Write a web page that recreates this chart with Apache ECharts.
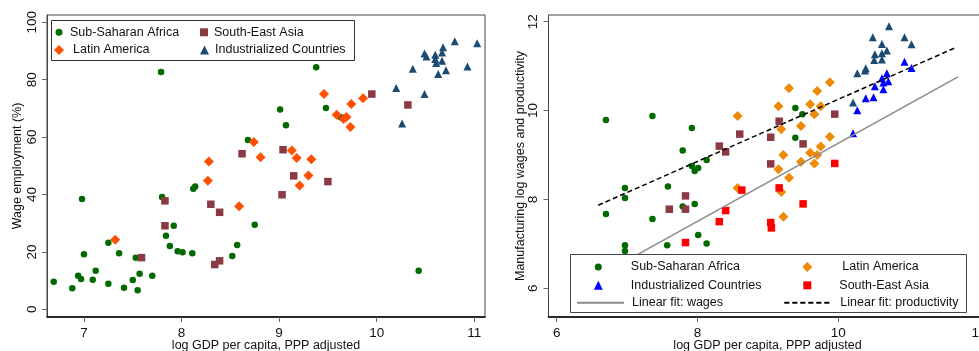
<!DOCTYPE html>
<html>
<head>
<meta charset="utf-8">
<script src="https://cdn.jsdelivr.net/npm/echarts@6/dist/echarts.min.js"></script>
<style>
  html, body { margin: 0; padding: 0; background: #fff; }
  #chart { width: 979px; height: 351px; }
</style>
</head>
<body>
<div id="chart"></div>
<script>
// left panel: wage employment (%) vs log GDP per capita
const ssaEmp = [[7.79,82.7],[8.68,59.0],[9.38,84.3],[9.01,69.6],[9.48,70.1],[9.07,64.1],[9.63,66.9],[8.75,29.5],[10.43,13.4],
  [6.69,9.6],[6.88,7.3],[6.94,11.7],[6.97,10.6],[6.98,38.4],[7.00,19.2],[7.09,10.3],[7.12,13.4],[7.25,23.2],[7.25,8.9],
  [7.36,19.5],[7.41,7.5],[7.50,10.2],[7.53,18.0],[7.57,12.4],[7.55,6.6],[7.70,11.7],[7.80,39.1],[7.92,29.1],[7.84,25.6],
  [7.88,22.1],[7.96,20.2],[8.01,19.9],[8.11,19.5],[8.12,42.0],[8.14,42.8],[8.52,18.6],[8.57,22.4]]
const laEmp = [[8.28,51.5],[8.27,44.8],[9.46,75.0],[9.86,73.5],[9.74,71.5],[9.59,67.8],[9.66,66.3],[9.69,67.0],[9.73,63.5],
  [8.74,58.3],[8.81,53.0],[9.13,55.3],[9.18,52.7],[9.33,52.3],[9.30,46.6],[9.21,43.1],[8.59,35.9],[7.32,24.2]]
const seaEmp = [[8.62,54.2],[9.95,75.0],[10.32,71.2],[9.04,55.6],[9.15,46.5],[9.50,44.5],[9.03,39.9],[7.59,18.0],[7.83,37.8],
  [7.83,29.1],[8.30,36.6],[8.39,33.8],[8.34,15.6],[8.39,16.9]]
const icEmp = [[10.80,93.4],[11.03,92.7],[10.49,89.1],[10.68,91.3],[10.51,88.1],[10.60,88.7],[10.60,87.2],[10.67,89.5],
  [10.67,86.6],[10.61,85.8],[10.37,83.8],[10.71,83.3],[10.63,82.0],[10.93,84.6],[10.20,77.1],[10.49,75.0],[10.26,64.7]]

// right panel: manufacturing log wages / log productivity
const ssaProd = [[6.70,9.79],[7.36,9.88],[7.92,9.61],[7.79,9.10],[8.13,8.89],[7.92,8.75],[7.96,8.64],[8.01,8.71],
  [9.39,10.06],[9.49,9.92],[6.97,8.26],[7.58,8.29]]
const ssaWage = [[6.70,7.67],[6.97,8.03],[7.36,7.56],[7.79,7.84],[7.96,7.90],[8.01,7.20],[8.13,7.01],[6.97,6.97],
  [6.97,6.84],[7.57,6.97],[9.39,9.39]]
const laProd = [[8.57,9.88],[9.30,10.50],[9.70,10.44],[9.88,10.64],[9.15,10.10],[9.60,10.14],[9.75,10.10],[9.66,9.92],
  [9.47,9.65],[9.19,9.58],[9.88,9.41]]
const laWage = [[9.75,9.19],[9.60,9.05],[9.70,9.00],[9.22,9.00],[9.47,8.85],[9.66,8.81],[9.15,8.68],[9.30,8.49],
  [8.57,8.26],[9.19,8.17],[9.22,7.61]]
const seaProd = [[7.60,7.78],[7.83,8.08],[7.83,7.78],[8.31,9.20],[8.40,9.07],[8.60,9.47],[9.16,9.76],[9.95,9.92],
  [9.04,9.40],[9.50,9.25],[9.04,8.80]]
const seaWage = [[7.83,7.03],[8.31,7.50],[8.40,7.75],[8.63,8.21],[9.16,8.26],[9.50,7.90],[9.04,7.48],[9.05,7.36],[9.95,8.81]]
const icProd = [[10.72,11.90],[10.49,11.65],[10.94,11.65],[11.04,11.49],[10.62,11.50],[10.69,11.35],[10.52,11.27],
  [10.62,11.29],[10.51,11.14],[10.62,11.15],[10.39,10.95],[10.38,10.90],[10.27,10.84],[10.21,10.18]]
const icWage = [[10.94,11.10],[11.04,10.96],[10.69,10.84],[10.62,10.73],[10.71,10.66],[10.64,10.63],[10.52,10.55],
  [10.64,10.48],[10.50,10.30],[10.39,10.28],[10.27,10.01],[10.21,9.49]]
const fitWages = [[6.59,6.27],[11.70,10.76]]
const fitProd = [[6.59,7.87],[11.67,11.42]]

const xTicksLeft = [7, 8, 9, 10, 11]
const yTicksLeft = [0, 20, 40, 60, 80, 100]
const xTicksRight = [6, 8, 10, 12]
const yTicksRight = [6, 8, 10, 12]

const FONT = 'Liberation Sans, Arial, sans-serif'
const C = {
  green: '#006a00', orangered: '#ff4f00', maroon: '#8b3a44', navy: '#1b4a72',
  orange: '#ef8a07', red: '#ff0000', blue: '#0000ff'
}

function xAxisOf(grid, min, max, ticks) {
  return {
    gridIndex: grid, type: 'value', min: min, max: max,
    name: 'log GDP per capita, PPP adjusted',
    nameLocation: 'middle', nameGap: 22, nameMoveOverlap: false,
    nameTextStyle: { fontFamily: FONT, fontSize: 12.5, color: '#111' },
    axisLine: { onZero: false, lineStyle: { color: '#000', width: 1.5 } },
    axisTick: { customValues: ticks, length: 5, lineStyle: { color: '#666' } },
    axisLabel: { customValues: ticks, margin: 9, fontFamily: FONT, fontSize: 13.5, color: '#111' },
    splitLine: { show: false }
  }
}
function yAxisOf(grid, min, max, ticks, name, gap) {
  return {
    gridIndex: grid, type: 'value', min: min, max: max,
    name: name, nameLocation: 'middle', nameGap: gap, nameRotate: 90, nameMoveOverlap: false,
    nameTextStyle: { fontFamily: FONT, fontSize: 12.5, color: '#111' },
    axisLine: { onZero: false, lineStyle: { color: '#444', width: 1 } },
    axisTick: { customValues: ticks, length: 5, lineStyle: { color: '#666' } },
    axisLabel: { customValues: ticks, rotate: 90, margin: 8, fontFamily: FONT, fontSize: 13.5, color: '#111' },
    splitLine: { show: false }
  }
}
function scatter(name, data, symbol, size, color, x) {
  return {
    name: name, type: 'scatter', xAxisIndex: x, yAxisIndex: x,
    data: data, symbol: symbol, symbolSize: size,
    itemStyle: { color: color, opacity: 1 }, z: 2
  }
}
// one legend block per entry, placed like the stata key
function legendOf(name, icon, color, left, cy, w, h, pad) {
  const lh = Math.max(h, 15)
  // line entries: hide the marker ECharts puts in the middle of the line
  const item = icon ? { name: name, icon: icon, itemStyle: { color: color } }
                    : { name: name, itemStyle: { opacity: 0 } }
  return {
    left: left, top: cy - lh / 2 + 2, padding: 0, itemWidth: w, itemHeight: h,
    selectedMode: false, z: 6,
    data: [item],
    textStyle: { fontFamily: FONT, fontSize: 12.5, color: '#111', padding: [0, 0, 0, pad || 0] }
  }
}

const chart = echarts.init(document.getElementById('chart'))
chart.setOption({
  animation: false,
  grid: [
    { left: 47, top: 15, width: 438, height: 302, show: true, borderColor: '#444', borderWidth: 1, outerBoundsMode: 'none' },
    { left: 548.5, top: 15, width: 438, height: 302, show: true, borderColor: '#444', borderWidth: 1, outerBoundsMode: 'none' }
  ],
  xAxis: [
    xAxisOf(0, 6.621, 11.11, xTicksLeft),
    xAxisOf(1, 5.884, 12.105, xTicksRight)
  ],
  yAxis: [
    yAxisOf(0, -2.68, 102.54, yTicksLeft, 'Wage employment (%)', 23),
    yAxisOf(1, 5.354, 12.151, yTicksRight, 'Manufacturing log wages and productivity', 21.5)
  ],
  graphic: [
    { type: 'rect', z: 5, shape: { x: 51.5, y: 20.5, width: 303, height: 40 },
      style: { fill: '#fff', stroke: '#333', lineWidth: 1 } },
    { type: 'rect', z: 5, shape: { x: 570.5, y: 254.5, width: 396, height: 58 },
      style: { fill: '#fff', stroke: '#444', lineWidth: 1 } }
  ],
  legend: [
    legendOf('Sub-Saharan Africa', 'circle', C.green, 55.5, 31.3, 7, 7, 2.5),
    legendOf('Latin America', 'diamond', C.orangered, 54, 49, 10, 10, 4),
    legendOf('South-East Asia', 'rect', C.maroon, 200, 31.3, 8, 8, 1),
    legendOf('Industrialized Countries', 'triangle', C.navy, 200, 49, 9, 9, 1),

    legendOf('Sub-Saharan Africa ', 'circle', C.green, 594.8, 266, 7, 7, 24),
    legendOf('Industrialized Countries ', 'triangle', C.blue, 593.8, 284.3, 9, 9, 23),
    legendOf('Linear fit: wages', null, null, 576, 301.7, 47, 14, 3),
    legendOf('Latin America ', 'diamond', C.orange, 802.3, 266, 10, 10, 25),
    legendOf('South-East Asia ', 'rect', C.red, 803.3, 284.3, 8, 8, 23),
    legendOf('Linear fit: productivity', null, null, 783.3, 301.7, 47, 14, 4)
  ],
  series: [
    scatter('Sub-Saharan Africa', ssaEmp, 'circle', 6.5, C.green, 0),
    scatter('Latin America', laEmp, 'diamond', 10, C.orangered, 0),
    scatter('South-East Asia', seaEmp, 'rect', 7.5, C.maroon, 0),
    scatter('Industrialized Countries', icEmp, 'triangle', 8, C.navy, 0),

    {
      name: 'Linear fit: wages', type: 'line', xAxisIndex: 1, yAxisIndex: 1, data: fitWages,
      symbol: 'none', lineStyle: { color: '#8a8a8a', width: 1.5 }, itemStyle: { color: '#8a8a8a' }, z: 3
    },
    {
      name: 'Linear fit: productivity', type: 'line', xAxisIndex: 1, yAxisIndex: 1, data: fitProd,
      symbol: 'none', lineStyle: { color: '#000', width: 1.5, type: [5, 3] }, itemStyle: { color: '#000' }, z: 3
    },
    scatter('Sub-Saharan Africa ', ssaWage, 'circle', 6.5, C.green, 1),
    scatter('SSA productivity', ssaProd, 'circle', 6.5, C.green, 1),
    scatter('Latin America ', laWage, 'diamond', 10, C.orange, 1),
    scatter('LA productivity', laProd, 'diamond', 10, C.orange, 1),
    scatter('South-East Asia ', seaWage, 'rect', 7.5, C.red, 1),
    scatter('SEA productivity', seaProd, 'rect', 7.5, C.maroon, 1),
    scatter('Industrialized Countries ', icWage, 'triangle', 8, C.blue, 1),
    scatter('IC productivity', icProd, 'triangle', 8, C.navy, 1)
  ]
})
</script>
</body>
</html>
